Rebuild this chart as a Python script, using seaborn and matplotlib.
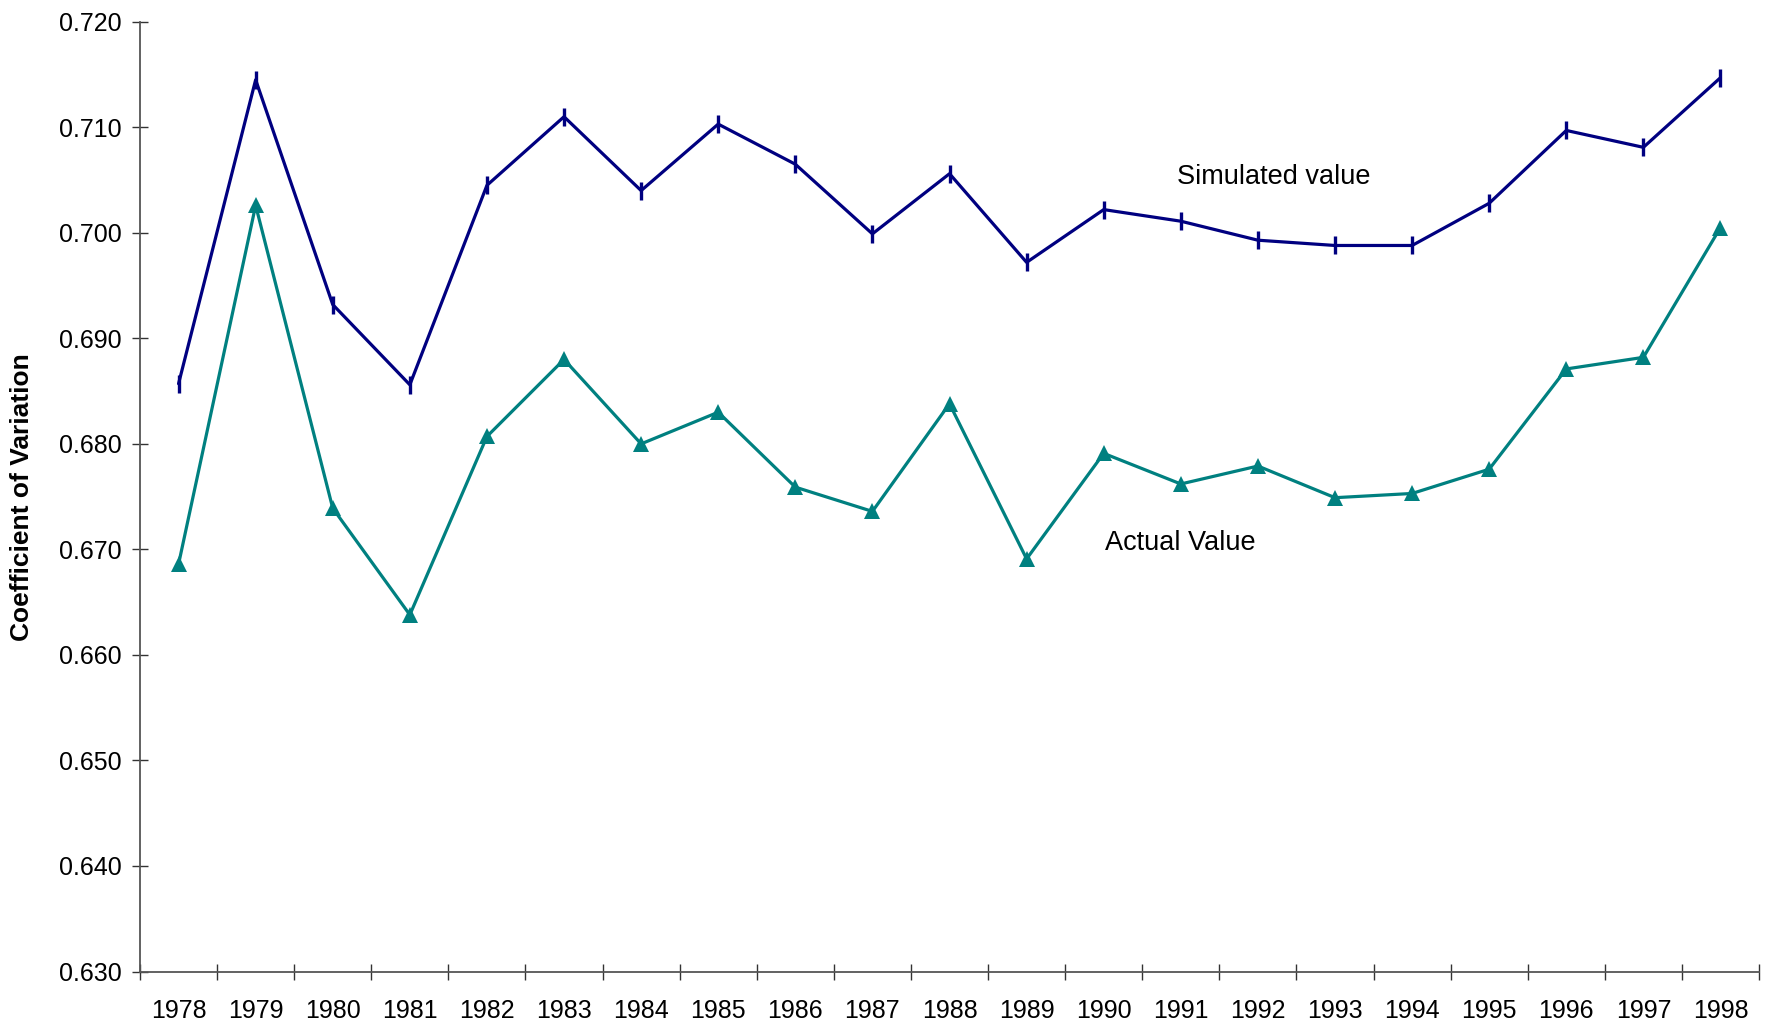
import numpy as np
import pandas as pd
import matplotlib
matplotlib.use("Agg")
import matplotlib.pyplot as plt
import seaborn as sns

# values
years = list(range(1978, 1999))
simulated = [0.6857, 0.7145, 0.6932, 0.6856, 0.7045, 0.7110, 0.7040, 0.7103,
             0.7065, 0.6999, 0.7056, 0.6972, 0.7022, 0.7011, 0.6993, 0.6988,
             0.6988, 0.7028, 0.7097, 0.7081, 0.7147]
actual = [0.6686, 0.7026, 0.6739, 0.6638, 0.6807, 0.6880, 0.6800, 0.6830,
          0.6759, 0.6736, 0.6838, 0.6691, 0.6791, 0.6762, 0.6779, 0.6749,
          0.6753, 0.6776, 0.6871, 0.6882, 0.7005]
y_ticks = [0.630, 0.640, 0.650, 0.660, 0.670, 0.680, 0.690, 0.700, 0.710, 0.720]

sns.set_style("white")
plt.rcParams['font.family'] = ['Liberation Sans', 'DejaVu Sans']
plt.rcParams['text.color'] = 'black'
plt.rcParams['axes.labelcolor'] = 'black'
plt.rcParams['xtick.color'] = 'black'
plt.rcParams['ytick.color'] = 'black'

fig = plt.figure(figsize=(17.7, 10.26), dpi=100)
ax = fig.add_axes([0.0791, 0.0531, 0.9147, 0.9257])

# simulated series: navy line with vertical dash markers
sns.lineplot(x=years, y=simulated, ax=ax, color='#000080', linewidth=2.3,
             marker='|', markersize=13, markeredgewidth=2.4, markeredgecolor='#000080')
# actual series: teal line with triangles
sns.lineplot(x=years, y=actual, ax=ax, color='#008080', linewidth=2.3,
             marker='^', markersize=11, markeredgewidth=0, markerfacecolor='#008080')

ax.set_xlim(1977.5, 1998.5)
ax.set_ylim(0.630, 0.720)
ax.set_yticks(y_ticks)
ax.set_yticklabels([f"{v:.3f}" for v in y_ticks])
ax.set_xticks(years)
ax.set_xticklabels([str(y) for y in years])
ax.set_xticks(np.arange(1977.5, 1999.0, 1.0), minor=True)

ax.tick_params(axis='y', which='major', left=True, direction='inout', length=11, width=1,
               color='#333333', labelsize=18, pad=7.5)
ax.tick_params(axis='x', which='major', bottom=True, length=0, labelsize=18, pad=20)
ax.tick_params(axis='x', which='minor', bottom=True, direction='inout', length=11, width=1,
               color='#333333')

for side in ['top', 'right']:
    ax.spines[side].set_visible(False)
for side in ['left', 'bottom']:
    ax.spines[side].set_color('#555555')
    ax.spines[side].set_linewidth(1.3)

ax.set_ylabel('Coefficient of Variation', fontsize=19, fontweight='bold')
ax.yaxis.set_label_coords(-0.0655, 0.5)
ax.set_xlabel('')

ax.text(1990.95, 0.7053, 'Simulated value', fontsize=19.5, ha='left', va='center')
ax.text(1990.02, 0.6706, 'Actual Value', fontsize=19.5, ha='left', va='center')

fig.savefig('out.png', dpi=100)
